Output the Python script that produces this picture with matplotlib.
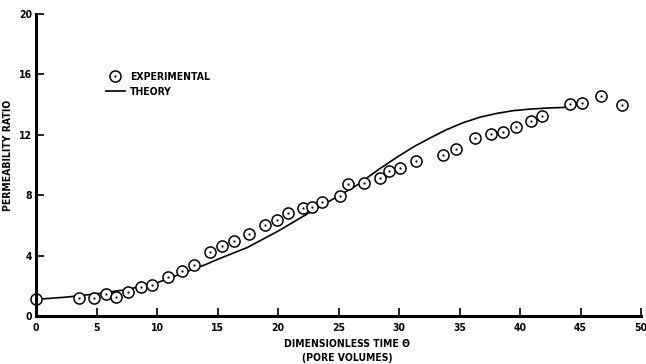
import matplotlib.pyplot as plt
from matplotlib.lines import Line2D

# experimental points (dimensionless time, permeability ratio)
exp_t = [0.0, 3.55, 4.8, 5.8, 6.6, 7.6, 8.65, 9.6, 10.9, 12.1, 13.05, 14.4, 15.4,
         16.4, 17.6, 18.9, 19.9, 20.85, 22.1, 22.8, 23.6, 25.1, 25.8, 27.1, 28.4,
         29.2, 30.1, 31.4, 33.6, 34.7, 36.3, 37.6, 38.6, 39.7, 40.9, 41.8, 44.1,
         45.1, 46.7, 48.4]
exp_k = [1.1, 1.17, 1.19, 1.44, 1.24, 1.59, 1.94, 2.03, 2.6, 2.98, 3.4, 4.24, 4.61,
         4.99, 5.4, 6.03, 6.36, 6.84, 7.13, 7.2, 7.53, 7.95, 8.74, 8.83, 9.14,
         9.58, 9.82, 10.29, 10.68, 11.04, 11.81, 12.05, 12.19, 12.5, 12.89, 13.26, 14.04,
         14.09, 14.57, 13.99]

# theory curve
th_t = [0, 2.5, 5, 7.5, 10, 11, 12, 13, 14, 15, 17.5, 20, 22.5, 25, 26.5, 28.4,
        29.8, 31.2, 32.6, 33.9, 35.3, 36.7, 38.1, 39.45, 40.8, 42.2, 43.8]
th_k = [1.1, 1.25, 1.47, 1.75, 2.2, 2.5, 2.8, 3.1, 3.4, 3.75, 4.55, 5.62, 6.8,
        7.95, 8.65, 9.75, 10.5, 11.2, 11.8, 12.33, 12.8, 13.17, 13.42, 13.6,
        13.7, 13.77, 13.82]

xticks = [0, 5, 10, 15, 20, 25, 30, 35, 40, 45, 50]
yticks = [0, 4, 8, 12, 16, 20]

plt.rcParams['font.family'] = ['DejaVu Sans']
plt.rcParams['font.stretch'] = 'condensed'
plt.rcParams['font.weight'] = 'bold'

fig = plt.figure(figsize=(6.46, 3.64), dpi=100)
ax = fig.add_axes([36 / 646, 48 / 364, 605 / 646, 302 / 364])

ax.plot(th_t, th_k, color='black', lw=1.2)
ax.plot(exp_t, exp_k, 'o', ms=8, mfc='white', mec='black', mew=1.1, ls='none',
        clip_on=False)
ax.plot(exp_t, exp_k, '.', ms=1.2, color='black', ls='none', clip_on=False)

ax.set_xlim(0, 50)
ax.set_ylim(0, 20)
ax.set_xticks(xticks)
ax.set_yticks(yticks)
ax.spines['top'].set_visible(False)
ax.spines['right'].set_visible(False)
ax.spines['left'].set_linewidth(2.2)
ax.spines['bottom'].set_linewidth(2.2)
ax.tick_params(direction='in', length=6, width=1.2, labelsize=7.5)
ax.tick_params(axis='y', pad=3)
ax.tick_params(axis='x', pad=5)
for lab in ax.get_xticklabels() + ax.get_yticklabels():
    lab.set_fontweight('bold')

ax.set_ylabel('PERMEABILITY RATIO', fontsize=7.5, fontweight='bold')
ax.yaxis.set_label_coords(-0.038, 0.533)
ax.set_xlabel('DIMENSIONLESS TIME \u0398\n(PORE VOLUMES)', fontsize=7.5,
              fontweight='bold', linespacing=1.45)
ax.xaxis.set_label_coords(0.514, -0.076)
ax.xaxis.label.set_verticalalignment('top')

circ = Line2D([], [], marker='o', ms=8, mfc='white', mec='black', mew=1.1, ls='none')
dot = Line2D([], [], marker='.', ms=1.2, color='black', ls='none')
line = Line2D([], [], color='black', lw=1.2)
ax.legend([(circ, dot), line], ['EXPERIMENTAL', 'THEORY'], loc='upper left',
          bbox_to_anchor=(0.1, 0.84), frameon=False, handlelength=1.8,
          handletextpad=0.5, labelspacing=0.5, prop={'weight': 'bold', 'size': 7.5})

fig.savefig('out.png', dpi=100)
